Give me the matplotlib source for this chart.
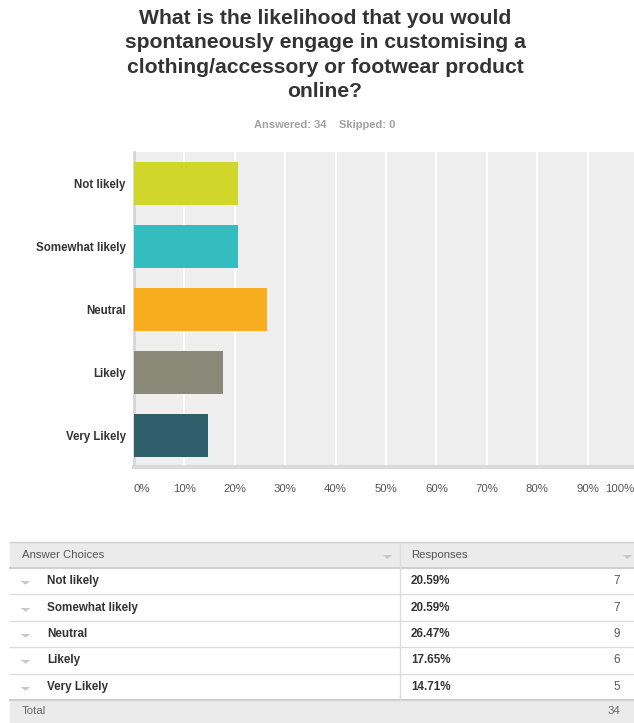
import matplotlib
matplotlib.use("Agg")
import matplotlib.pyplot as plt
from matplotlib.patches import Rectangle
from matplotlib.transforms import ScaledTranslation
from matplotlib.path import Path

categories = ["Not likely", "Somewhat likely", "Neutral", "Likely", "Very Likely"]
percentages = [20.59, 20.59, 26.47, 17.65, 14.71]
counts = [7, 7, 9, 6, 5]
colors = ["#d0d62a", "#33bdbf", "#f7ae1e", "#898a78", "#2e5f6b"]
xticks = [0, 10, 20, 30, 40, 50, 60, 70, 80, 90, 100]
xtick_labels = [f"{t}%" for t in xticks]
title = ("What is the likelihood that you would\nspontaneously engage in customising a\n"
         "clothing/accessory or footwear product\nonline?")
subtitle = "Answered: 34    Skipped: 0"
total = 34

FONT = ["Liberation Sans Narrow", "Liberation Sans", "DejaVu Sans"]
plt.rcParams["font.family"] = FONT

W, H = 634, 723
fig = plt.figure(figsize=(W / 100, H / 100), dpi=100)

ov = fig.add_axes([0, 0, 1, 1])
ov.set_xlim(0, W)
ov.set_ylim(H, 0)
ov.axis("off")

def px(x0, y0, x1, y1):
    return [x0 / W, 1 - y1 / H, (x1 - x0) / W, (y1 - y0) / H]

# ---- chart
ax = fig.add_axes(px(134, 152, 638, 467))
ax.set_facecolor("#efefef")
ypos = list(range(len(categories)))
ax.barh(ypos, percentages, height=0.667, color=colors, zorder=3)
ax.set_xlim(0, 100)
ax.set_ylim(len(categories) - 0.5, -0.5)
ax.set_xticks(xticks)
ax.xaxis.grid(True, color="white", linewidth=1.5, zorder=1)
ax.set_axisbelow(True)
ax.set_yticks(ypos)
ax.set_yticklabels(categories, fontsize=8.3, fontweight="bold", color="#333333")
ax.tick_params(axis="y", length=0, pad=6)
ax.set_xticklabels(xtick_labels, fontsize=8.2, color="#555555")
ax.tick_params(axis="x", length=0, pad=12)
lbls = ax.get_xticklabels()
lbls[0].set_horizontalalignment("left")
lbls[-1].set_horizontalalignment("right")
lbls[-1].set_transform(lbls[-1].get_transform() + ScaledTranslation(-4 / 100, 0, fig.dpi_scale_trans))
for s in ["top", "right"]:
    ax.spines[s].set_visible(False)
ax.spines["left"].set_color("#d6d6d6")
ax.spines["left"].set_linewidth(2)
ax.spines["bottom"].set_color("#dadada")
ax.spines["bottom"].set_linewidth(3)

# ---- title
ov.text(325, 55, title, ha="center", va="center", fontsize=15.2, fontweight="bold",
        color="#333333", linespacing=1.34)
ov.text(325, 125, subtitle, ha="center", va="center", fontsize=8, fontweight="bold",
        color="#a0a0a0")

# ---- table
tl, tr, div = 10, 634, 400
top, hb = 542, 568
row_h = 26.4
tri_marker = Path([(-1, 0.3), (1, 0.3), (0, -0.45), (-1, 0.3)],
                  [Path.MOVETO, Path.LINETO, Path.LINETO, Path.CLOSEPOLY])

def tri(x, y):
    ov.plot([x], [y], marker=tri_marker, markersize=7, color="#c8c8c8", markeredgewidth=0,
            linestyle="none")

ov.add_patch(Rectangle((tl, top), tr - tl, hb - top, facecolor="#ebebeb", edgecolor="none"))
ov.plot([tl, tr], [top, top], color="#d0d0d0", lw=1)
ov.plot([tl, tr], [hb, hb], color="#d0d0d0", lw=1.5)
ov.text(22, (top + hb) / 2, "Answer Choices", ha="left", va="center", fontsize=8.2, color="#555555")
ov.text(411, (top + hb) / 2, "Responses", ha="left", va="center", fontsize=8.2, color="#555555")
tri(387, (top + hb) / 2 + 1)
tri(627, (top + hb) / 2 + 1)
for i, (cat, p, c) in enumerate(zip(categories, percentages, counts)):
    y0 = hb + i * row_h
    y1 = y0 + row_h
    yc = (y0 + y1) / 2
    ov.plot([tl, tr], [y1, y1], color="#dcdcdc", lw=1)
    tri(25, yc + 1)
    ov.text(47, yc, cat, ha="left", va="center", fontsize=8.4, fontweight="bold", color="#333333")
    ov.text(411, yc, f"{p:.2f}%", ha="left", va="center", fontsize=8.4, fontweight="bold",
            color="#333333")
    ov.text(620, yc, str(c), ha="right", va="center", fontsize=8.4, color="#555555")
tot_top = hb + len(categories) * row_h
ov.add_patch(Rectangle((tl, tot_top), tr - tl, H - tot_top, facecolor="#ebebeb", edgecolor="none"))
ov.plot([tl, tr], [tot_top, tot_top], color="#d0d0d0", lw=1.5)
ov.plot([div, div], [top, tot_top], color="#dcdcdc", lw=1)
ov.text(22, (tot_top + H) / 2, "Total", ha="left", va="center", fontsize=8.2, color="#666666")
ov.text(620, (tot_top + H) / 2, str(total), ha="right", va="center", fontsize=8.2, color="#666666")

fig.savefig("out.png", dpi=100)
